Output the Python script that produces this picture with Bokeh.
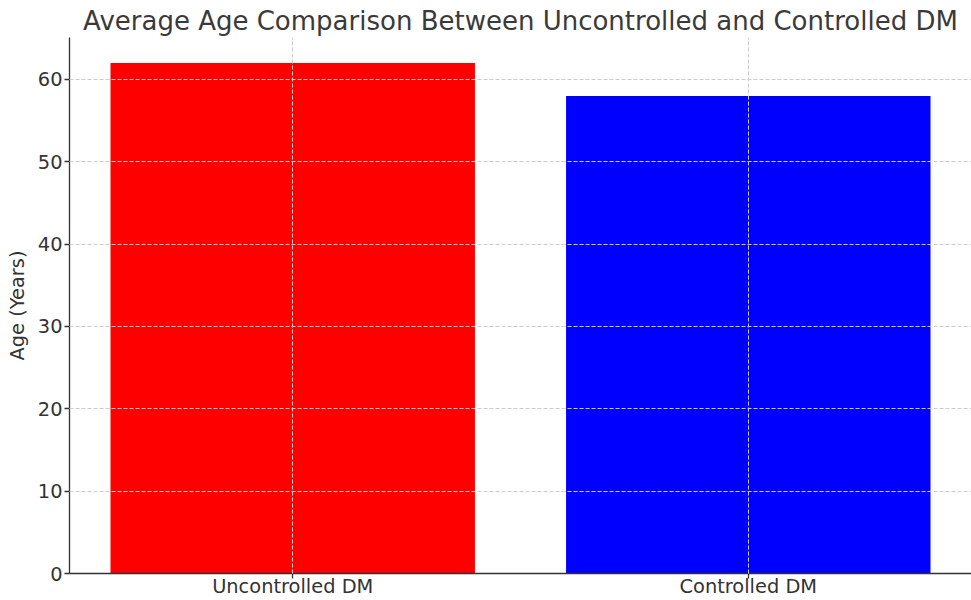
from bokeh.plotting import figure
from bokeh.models import FixedTicker, Range1d
from bokeh.embed import file_html
from bokeh.resources import INLINE

categories = ["Uncontrolled DM", "Controlled DM"]
ages = [62, 58]
colors = ["#ff0000", "#0000ff"]
y_ticks = [0, 10, 20, 30, 40, 50, 60]

xs = list(range(len(categories)))

p = figure(width=971, height=600, output_backend="svg", toolbar_location=None,
           x_range=Range1d(-0.49, 1.49), y_range=Range1d(0, 65.1),
           min_border_left=69, min_border_right=0, min_border_top=37, min_border_bottom=25)
p.outline_line_color = None

p.vbar(x=xs, top=ages, width=0.8, color=colors, line_color=None)

p.title.text = "Average Age Comparison Between Uncontrolled and Controlled DM"
p.title.align = "center"
p.title.text_font = "DejaVu Sans"
p.title.text_font_size = "26px"
p.title.text_font_style = "normal"
p.title.text_color = "#3a3a3a"
p.title.offset = 0
p.title.standoff = 4

font_color = "#333333"
p.xaxis.ticker = FixedTicker(ticks=xs)
p.xaxis.major_label_overrides = {i: c for i, c in enumerate(categories)}
p.yaxis.ticker = FixedTicker(ticks=y_ticks)
for ax in (p.xaxis, p.yaxis):
    ax.major_label_text_font = "DejaVu Sans"
    ax.major_label_text_font_size = "19.4px"
    ax.major_label_text_color = font_color
    ax.axis_line_color = "#333333"
    ax.axis_line_width = 1.3
    ax.major_tick_line_color = "#333333"
    ax.major_tick_line_width = 1.3
    ax.major_tick_out = 5
    ax.major_tick_in = 0
    ax.minor_tick_line_color = None
p.xaxis.major_label_standoff = -4
p.yaxis.major_label_standoff = 2

p.yaxis.axis_label = "Age (Years)"
p.yaxis.axis_label_text_font = "DejaVu Sans"
p.yaxis.axis_label_text_font_size = "19.4px"
p.yaxis.axis_label_text_font_style = "normal"
p.yaxis.axis_label_text_color = font_color
p.yaxis.axis_label_standoff = 6

for g in (p.xgrid, p.ygrid):
    g.grid_line_color = "#cccccc"
    g.grid_line_dash = "4 2"
    g.grid_line_width = 1
    g.level = "overlay"
p.xgrid.ticker = FixedTicker(ticks=xs)
p.ygrid.ticker = FixedTicker(ticks=y_ticks)

open("out.html", "w").write(file_html(p, INLINE))
